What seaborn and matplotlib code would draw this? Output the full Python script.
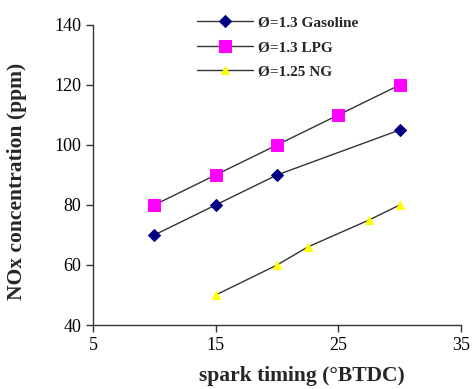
import matplotlib
matplotlib.use("Agg")
import matplotlib.pyplot as plt
import seaborn as sns
import pandas as pd

sns.set_theme(style="ticks")
plt.rcParams['font.family'] = ['Liberation Serif', 'DejaVu Serif']

gas_x = [10, 15, 20, 30]
gas_y = [70, 80, 90, 105]
lpg_x = [10, 15, 20, 25, 30]
lpg_y = [80, 90, 100, 110, 120]
ng_x = [15, 20, 22.5, 27.5, 30]
ng_y = [50, 60, 66, 75, 80]
labels = ["Ø=1.3 Gasoline", "Ø=1.3 LPG", "Ø=1.25 NG"]
x_ticks = [5, 15, 25, 35]
y_ticks = [40, 60, 80, 100, 120, 140]

fig = plt.figure(figsize=(4.72, 3.89), dpi=100)
ax = fig.add_axes([0.197, 0.1645, 0.78, 0.7715])

sns.lineplot(x=gas_x, y=gas_y, ax=ax, color="#333333", lw=1, marker="D",
             markersize=6, markerfacecolor="#000080", markeredgecolor="#000080",
             label=labels[0])
sns.lineplot(x=lpg_x, y=lpg_y, ax=ax, color="#333333", lw=1, marker="s",
             markersize=9, markerfacecolor="#FF00FF", markeredgecolor="#FF00FF",
             label=labels[1])
sns.lineplot(x=ng_x, y=ng_y, ax=ax, color="#333333", lw=1, marker="^",
             markersize=6, markerfacecolor="#FFFF00", markeredgecolor="#FFFF00",
             label=labels[2])

ax.set_xlim(5, 35)
ax.set_ylim(40, 140)
ax.set_xticks(x_ticks)
ax.set_yticks(y_ticks)
ax.tick_params(axis='both', labelsize=13, length=5, width=1, colors="#333333",
               labelcolor="black", direction='out')
for s in ['top', 'right']:
    ax.spines[s].set_visible(False)
for s in ['left', 'bottom']:
    ax.spines[s].set_color("#333333")
    ax.spines[s].set_linewidth(1)

ax.set_xlabel("spark timing (°BTDC)", fontsize=15.5, fontweight='bold')
ax.set_ylabel("NOx concentration (ppm)", fontsize=15.5, fontweight='bold')
ax.xaxis.set_label_coords(0.568, -0.135)
ax.yaxis.set_label_coords(-0.18, 0.48)

leg = ax.legend(loc='upper left', bbox_to_anchor=(0.245, 1.075), frameon=False,
                prop={'weight': 'bold', 'size': 11}, handlelength=3.7,
                labelspacing=0.7, handletextpad=0.3)

fig.savefig("out.png", dpi=100)
